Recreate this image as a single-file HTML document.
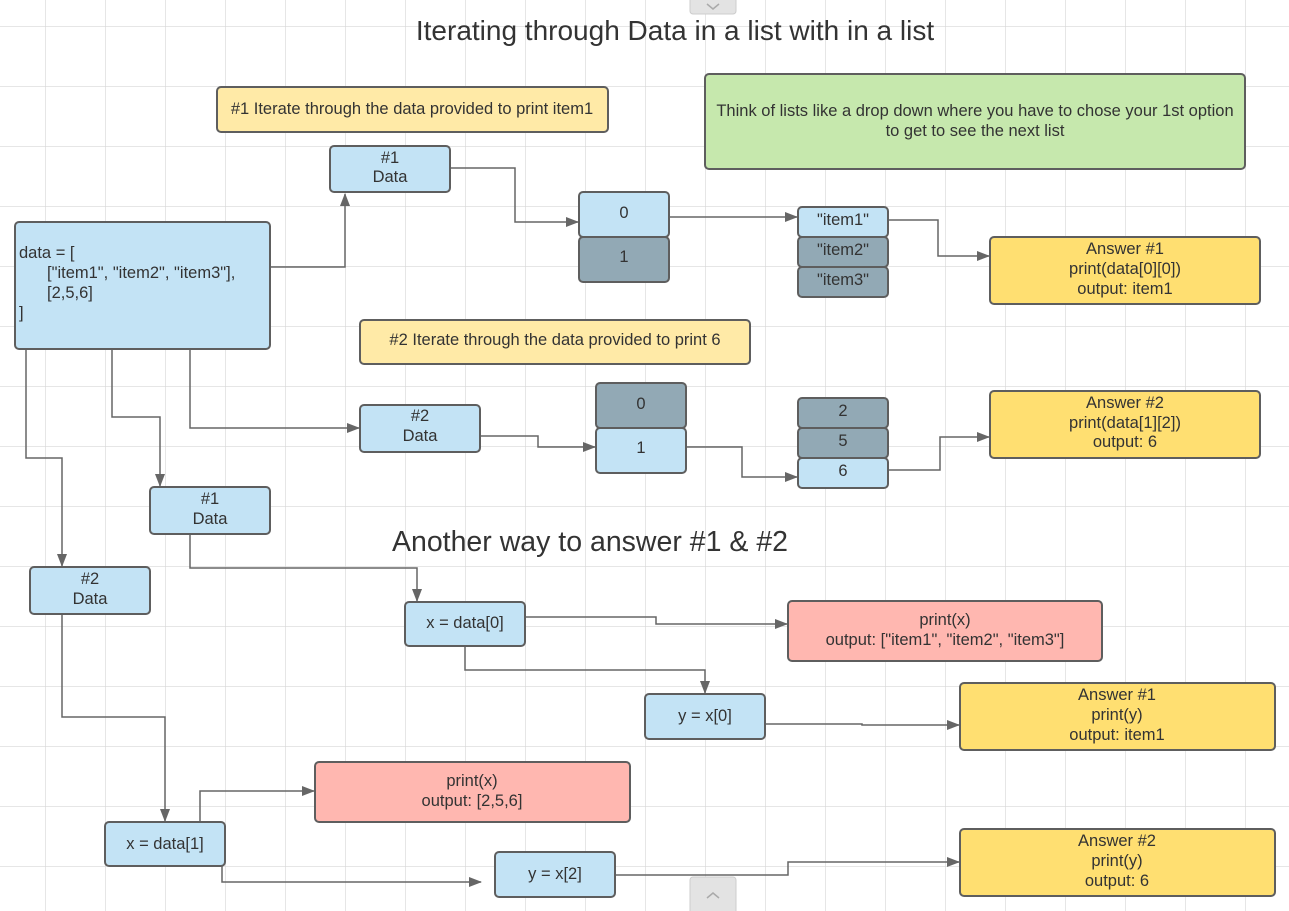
<!DOCTYPE html>
<html><head><meta charset="utf-8"><style>
html,body{margin:0;padding:0;background:#fff;}
svg{display:block;}
text{font-family:"Liberation Sans",Arial,sans-serif;fill:#333;}
.b{stroke:#5e5e5e;stroke-width:2;}
.c{fill:none;stroke:#666;stroke-width:1.5;}
</style></head><body>
<svg width="1289" height="911" viewBox="0 0 1289 911" xmlns="http://www.w3.org/2000/svg">
<defs>
<pattern id="g" x="45" y="26" width="60" height="60" patternUnits="userSpaceOnUse">
<path d="M0 0H60M0 0V60" fill="none" stroke="#d8d8d8" stroke-width="1.3"/>
</pattern>
<marker id="a" markerWidth="13" markerHeight="10" refX="12" refY="5" orient="auto" markerUnits="userSpaceOnUse">
<path d="M0 0L13 5L0 10z" fill="#666"/>
</marker>
</defs>
<rect width="1289" height="911" fill="url(#g)"/>

<rect x="690" y="-4" width="46" height="18" rx="3" fill="#e3e3e3" stroke="#ccc"/>
<path d="M707 4l6 5l6-5" fill="none" stroke="#aaa" stroke-width="1.5"/>
<rect x="690" y="877" width="46" height="40" rx="3" fill="#e3e3e3" stroke="#ccc"/>
<path d="M707 898l6-5l6 5" fill="none" stroke="#aaa" stroke-width="1.5"/>

<text x="675" y="40" font-size="28" text-anchor="middle">Iterating through Data in a list with in a list</text>
<text x="590" y="551" font-size="28.5" text-anchor="middle">Another way to answer #1 &amp; #2</text>

<g class="c">
<path d="M270 267H345V194" marker-end="url(#a)"/>
<path d="M450 168H515V222H578" marker-end="url(#a)"/>
<path d="M669 217H797" marker-end="url(#a)"/>
<path d="M888 220H938V256H989" marker-end="url(#a)"/>
<path d="M26 349V458H62V566" marker-end="url(#a)"/>
<path d="M112 349V417H160V486" marker-end="url(#a)"/>
<path d="M190 349V428H359" marker-end="url(#a)"/>
<path d="M480 436H538V447H595" marker-end="url(#a)"/>
<path d="M686 447H742V477H797" marker-end="url(#a)"/>
<path d="M888 470H940V437H989" marker-end="url(#a)"/>
<path d="M190 534V568H417V601" marker-end="url(#a)"/>
<path d="M525 617H656V624H787" marker-end="url(#a)"/>
<path d="M465 646V670H705V693" marker-end="url(#a)"/>
<path d="M765 724H862V725H959" marker-end="url(#a)"/>
<path d="M62 614V717H165V821" marker-end="url(#a)"/>
<path d="M200 822V791H314" marker-end="url(#a)"/>
<path d="M222 866V882H481" marker-end="url(#a)"/>
<path d="M615 875H788V862H959" marker-end="url(#a)"/>
</g>

<g class="b">
<rect x="217" y="87" width="391" height="45" rx="4" fill="#ffeaa7"/>
<rect x="705" y="74" width="540" height="95" rx="4" fill="#c6e8ad"/>
<rect x="330" y="146" width="120" height="46" rx="4" fill="#c3e3f5"/>
<rect x="15" y="222" width="255" height="127" rx="4" fill="#c3e3f5"/>
<rect x="579" y="192" width="90" height="45" rx="4" fill="#c3e3f5"/>
<rect x="579" y="237" width="90" height="45" rx="4" fill="#92a9b5"/>
<rect x="798" y="207" width="90" height="30" rx="4" fill="#c3e3f5"/>
<rect x="798" y="237" width="90" height="30" rx="4" fill="#92a9b5"/>
<rect x="798" y="267" width="90" height="30" rx="4" fill="#92a9b5"/>
<rect x="990" y="237" width="270" height="67" rx="4" fill="#ffdf71"/>
<rect x="360" y="320" width="390" height="44" rx="4" fill="#ffeaa7"/>
<rect x="360" y="405" width="120" height="47" rx="4" fill="#c3e3f5"/>
<rect x="596" y="383" width="90" height="45" rx="4" fill="#92a9b5"/>
<rect x="596" y="428" width="90" height="45" rx="4" fill="#c3e3f5"/>
<rect x="798" y="398" width="90" height="30" rx="4" fill="#92a9b5"/>
<rect x="798" y="428" width="90" height="30" rx="4" fill="#92a9b5"/>
<rect x="798" y="458" width="90" height="30" rx="4" fill="#c3e3f5"/>
<rect x="990" y="391" width="270" height="67" rx="4" fill="#ffdf71"/>
<rect x="150" y="487" width="120" height="47" rx="4" fill="#c3e3f5"/>
<rect x="30" y="567" width="120" height="47" rx="4" fill="#c3e3f5"/>
<rect x="405" y="602" width="120" height="44" rx="4" fill="#c3e3f5"/>
<rect x="788" y="601" width="314" height="60" rx="4" fill="#ffb7b0"/>
<rect x="645" y="694" width="120" height="45" rx="4" fill="#c3e3f5"/>
<rect x="960" y="683" width="315" height="67" rx="4" fill="#ffdf71"/>
<rect x="315" y="762" width="315" height="60" rx="4" fill="#ffb7b0"/>
<rect x="105" y="822" width="120" height="44" rx="4" fill="#c3e3f5"/>
<rect x="495" y="852" width="120" height="45" rx="4" fill="#c3e3f5"/>
<rect x="960" y="829" width="315" height="67" rx="4" fill="#ffdf71"/>
</g>

<g font-size="16.5" text-anchor="middle">
<text x="412" y="114">#1 Iterate through the data provided to print item1</text>
<text x="975" y="116">Think of lists like a drop down where you have to chose your 1st option</text>
<text x="975" y="136">to get to see the next list</text>
<text x="390" y="163">#1</text><text x="390" y="182">Data</text>
<text x="624" y="218">0</text><text x="624" y="262">1</text>
<text x="843" y="225">"item1"</text><text x="843" y="255">"item2"</text><text x="843" y="285">"item3"</text>
<text x="1125" y="254">Answer #1</text><text x="1125" y="274">print(data[0][0])</text><text x="1125" y="294">output: item1</text>
<text x="555" y="345">#2 Iterate through the data provided to print 6</text>
<text x="420" y="421">#2</text><text x="420" y="441">Data</text>
<text x="641" y="409">0</text><text x="641" y="453">1</text>
<text x="843" y="416">2</text><text x="843" y="446">5</text><text x="843" y="476">6</text>
<text x="1125" y="408">Answer #2</text><text x="1125" y="428">print(data[1][2])</text><text x="1125" y="447">output: 6</text>
<text x="210" y="504">#1</text><text x="210" y="524">Data</text>
<text x="90" y="584">#2</text><text x="90" y="604">Data</text>
<text x="465" y="628">x = data[0]</text>
<text x="945" y="625">print(x)</text><text x="945" y="645">output: ["item1", "item2", "item3"]</text>
<text x="705" y="721">y = x[0]</text>
<text x="1117" y="700">Answer #1</text><text x="1117" y="720">print(y)</text><text x="1117" y="740">output: item1</text>
<text x="472" y="786">print(x)</text><text x="472" y="806">output: [2,5,6]</text>
<text x="165" y="849">x = data[1]</text>
<text x="555" y="879">y = x[2]</text>
<text x="1117" y="846">Answer #2</text><text x="1117" y="866">print(y)</text><text x="1117" y="886">output: 6</text>
</g>
<g font-size="16.5">
<text x="19" y="258">data = [</text>
<text x="47" y="278">["item1", "item2", "item3"],</text>
<text x="47" y="298">[2,5,6]</text>
<text x="19" y="318">]</text>
</g>
</svg>
</body></html>
